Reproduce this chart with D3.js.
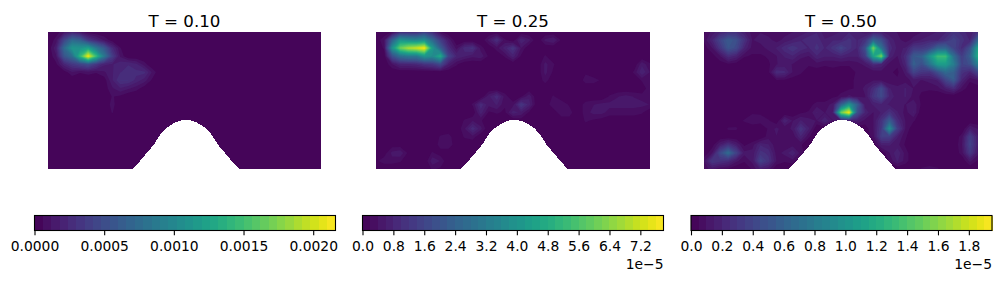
<!DOCTYPE html>
<html>
<head>
<meta charset="utf-8">
<script src="https://cdn.jsdelivr.net/npm/d3@7"></script>
<style>
    html, body { margin: 0; padding: 0; background: #fff; }
    svg { display: block; }
    text { font-family: "DejaVu Sans", sans-serif; fill: #000; }
</style>
</head>
<body>
<svg width="1001" height="282"></svg>
<script>
// panel titles
var titles = ["T = 0.10", "T = 0.25", "T = 0.50"];

// contour levels: size of one step and number of steps on each colorbar
var levelSteps = [6e-5, 2e-6, 5e-7];
var levelCounts = [36, 39, 39];

// colorbar ticks
var ticksA = [0, 0.0005, 0.001, 0.0015, 0.002];
var ticksB = [0, 0.8e-5, 1.6e-5, 2.4e-5, 3.2e-5, 4e-5, 4.8e-5, 5.6e-5, 6.4e-5, 7.2e-5];
var ticksC = [0, 0.2e-5, 0.4e-5, 0.6e-5, 0.8e-5, 1e-5, 1.2e-5, 1.4e-5, 1.6e-5, 1.8e-5];
var tickLabelsA = ["0.0000", "0.0005", "0.0010", "0.0015", "0.0020"];
var tickLabelsB = ["0.0", "0.8", "1.6", "2.4", "3.2", "4.0", "4.8", "5.6", "6.4", "7.2"];
var tickLabelsC = ["0.0", "0.2", "0.4", "0.6", "0.8", "1.0", "1.2", "1.4", "1.6", "1.8"];
var offsetLabels = ["", "1e\u22125", "1e\u22125"];

// outline of the bump, half of it, in plot units (x 0-2, y 0-1)
var bumpCenter = 1.01;
var bumpOffsets = [0, 0.037, 0.073, 0.11, 0.147, 0.183, 0.234, 0.293, 0.352, 0.39];
var bumpHeights = [0.358, 0.354, 0.343, 0.321, 0.296, 0.259, 0.179, 0.109, 0.04, 0];

// fields, in percent of the colorbar top
// one row per 1/17 of the height from the top, trailing zeros left out
var fieldA = [
    [0,1,5,9,5,1],
    [0,4,20,34,30,16,10,5,1],
    [0,8,34,52,52,58,40,28,12,3],
    [0,5,26,36,66,99,68,40,18,5],
    [0,2,10,16,20,24,16,9,8,10,11,9,4],
    [0,0,1,5,3,4,3,5,8,11,12,12,12,5],
    [0,0,0,0,0,0,0,1,8,14,14,10,7,2],
    [0,0,0,0,0,0,0,1,5,8,6,4,1],
    [0,0,0,0,0,0,0,0,3,2],
    [0,0,0,0,0,0,0,0,4],
    [0,0,0,0,0,0,0,0,3]
];
var fieldB = [
    [0,0,3,12,12,12,18,12,3],
    [0,5,30,52,48,46,50,34,18,7,0,0,0,0,6,13,3,0,10,6,0,6,8,2],
    [0,3,50,78,88,92,99,55,30,12,4,12,14,4,0,4,9,15,5],
    [0,0,24,36,40,40,52,48,62,20,10,8,6,7,2,0,3,9,2,0,0,3],
    [0,0,5,10,10,11,14,16,22,8,3,0,0,0,0,0,0,0,0,0,0,6,3,0,1,0,0,0,0,0,0,0,0,7,3],
    [0,0,0,0,0,0,0,0,0,0,0,0,0,0,0,0,0,0,0,0,0,6,2,0,0,0,2,0,0,0,0,0,3,10,5],
    [0,0,0,0,0,0,0,0,0,0,0,0,0,0,0,0,0,0,0,0,0,4,0,0,0,0,4,4,2,0,0,0,0,3,4],
    [0,0,0,0,0,0,0,0,0,0,0,0,0,0,0,0,0,0,0,0,0,0,0,0,2,2,0,0,0,0,0,0,0,0,5],
    [0,0,0,0,0,0,0,0,0,0,0,0,0,0,7,12,4,0,2,7,0,0,3,0,0,0,0,0,0,3,5,6,5,4,5],
    [0,0,0,0,0,0,0,0,0,0,0,0,3,12,6,8,3,4,16,9,0,0,5,5,2,0,4,5,6,6,6,6,6,6,5],
    [0,0,0,0,0,0,0,0,0,0,0,0,0,9,2,3,2,9,7,2,0,0,0,5,4,0,4,6,6,4,4,4,4,3],
    [0,0,0,0,0,0,0,0,0,0,0,3,5,3,0,0,0,0,1,0,0,0,0,0,1,0,3,2,1],
    [0,0,0,0,0,0,0,0,0,0,0,5,12,6,0,0,0,0,0,0,0,0,0,0,0,0,1],
    [0,0,0,0,0,0,0,0,3,4,0,3,4],
    [0,0,1,1,0,0,0,0,4,5],
    [0,1,6,7,2,0,0,3,1],
    [2,4,4,3,0,0,0,7,5],
    [1,0,0,0,0,0,0,3,2]
];
var fieldC = [
    [2,6,10,13,13,8,4,5,4,3,4,5,6,8,10,6,6,8,10,8,6,8,8,6,5,4,4,5,6,8,10,14,12,8,14],
    [3,10,20,28,24,14,5,6,6,4,6,8,10,12,12,8,10,10,14,10,14,32,24,10,6,4,6,8,10,10,14,20,14,10,32],
    [1,5,15,26,22,10,4,4,6,8,12,15,12,10,14,10,14,20,14,10,24,80,38,12,7,8,16,16,20,32,32,20,12,24,58],
    [0,1,5,12,9,3,2,2,3,5,8,10,6,5,10,8,8,10,8,8,18,58,80,10,5,12,28,30,50,68,68,36,18,30,62],
    [0,0,1,2,1,0,0,1,2,5,6,5,3,3,4,3,3,3,3,4,6,12,10,4,3,10,30,24,38,55,55,42,20,24,44],
    [0,0,0,0,0,0,0,0,2,12,11,5,3,1,1,1,2,1,1,3,3,3,4,3,2,6,20,15,14,24,34,30,14,10,20],
    [0,0,1,2,1,0,0,0,1,2,2,1,1,1,1,1,1,2,2,3,4,5,5,3,3,4,6,5,6,8,20,28,10,3,5],
    [0,0,0,1,0,0,0,0,0,0,0,0,0,1,1,1,1,2,2,3,6,12,22,8,6,8,5,3,3,4,8,12,4,1,1],
    [0,0,0,0,0,0,0,0,0,0,0,0,0,0,0,0,2,3,6,4,5,15,22,10,6,8,4,2,1],
    [0,0,0,0,0,0,0,0,0,0,0,0,0,1,4,4,6,30,52,30,6,8,10,7,6,5,7,2],
    [0,0,0,0,0,0,2,2,0,0,0,0,2,3,8,5,8,78,99,25,10,5,8,14,8,4,8],
    [0,0,0,0,1,3,5,4,3,0,10,5,8,6,5,10,5,6,8,8,4,5,14,30,12,5,3],
    [0,0,0,3,3,0,0,0,3,6,3,6,15,8,0,0,0,0,0,0,1,5,16,50,18,5,0,0,0,0,0,0,0,8,5],
    [0,0,0,0,0,0,0,0,4,5,3,3,10,3,0,0,0,0,0,0,0,4,18,18,8,3,0,0,0,0,0,0,4,18,8],
    [0,1,8,14,8,2,4,10,8,3,3,4,3,0,0,0,0,0,0,0,0,0,8,8,6,2,0,0,0,0,0,0,5,20,8],
    [0,5,22,35,20,6,6,14,12,4,6,10,4,0,0,0,0,0,0,0,0,0,0,5,10,4,0,0,0,0,0,0,4,16,6],
    [5,16,14,12,6,3,6,20,14,5,3,4,0,0,0,0,0,0,0,0,0,0,0,3,8,4,0,0,0,0,0,0,0,6,2],
    [4,6,3,2,0,0,3,8,6,0,0,0,0,0,0,0,0,0,0,0,0,0,0,0,0,0,0,3,4,3]
];

var fields = [fieldA, fieldB, fieldC];
var ticks = [ticksA, ticksB, ticksC];
var tickLabels = [tickLabelsA, tickLabelsB, tickLabelsC];

var gridCols = 35,
    gridRows = 18;

var svg = d3.select("svg");

// pixel boxes of the panels and of their colorbars
var panelLefts = [48, 376, 704],
    panelRights = [321, 650, 978],
    barLefts = [34.5, 362.5, 691],
    panelTop = 32,
    panelBottom = 169,
    barWidth = 301,
    barTop = 215.5,
    barBottom = 230.5;

titles.forEach(function(title, i) {
    var left = panelLefts[i],
        right = panelRights[i];
    var top_ = levelSteps[i] * levelCounts[i];

    // plot scales
    var x = d3.scaleLinear().domain([0, 2]).range([left, right]),
        y = d3.scaleLinear().domain([0, 1]).range([panelBottom, panelTop]);

    // grid scales, d3.contours puts node n at n + 0.5
    var gridX = d3.scaleLinear().domain([0.5, gridCols - 0.5]).range([left, right]),
        gridY = d3.scaleLinear().domain([0.5, gridRows - 0.5]).range([panelTop, panelBottom]);

    var color = function(k) {
        return d3.interpolateViridis((k + 0.5) / levelCounts[i]);
    };

    var values = [];
    d3.range(gridRows).forEach(function(r) {
        var row = fields[i][r] || [];
        d3.range(gridCols).forEach(function(c) {
            values.push((row[c] || 0) / 100 * top_);
        });
    });

    var levels = d3.range(levelCounts[i]).map(function(k) {
        return k * levelSteps[i];
    });

    var contours = d3.contours()
        .size([gridCols, gridRows])
        .thresholds(levels)(values);

    var path = d3.geoPath(d3.geoTransform({
        point: function(px, py) {
            this.stream.point(gridX(px), gridY(py));
        }
    }));

    svg.append("clipPath")
        .attr("id", "clip" + i)
        .append("rect")
        .attr("x", left)
        .attr("y", panelTop)
        .attr("width", right - left)
        .attr("height", panelBottom - panelTop);

    var g = svg.append("g").attr("clip-path", "url(#clip" + i + ")");

    g.selectAll("path")
        .data(contours)
        .enter().append("path")
        .attr("d", path)
        .attr("fill", function(d, k) { return color(k); });

    // the bump is not part of the domain
    var bumpPoints = bumpOffsets.map(function(o, k) {
        return [bumpCenter - o, bumpHeights[k]];
    }).reverse().concat(bumpOffsets.slice(1).map(function(o, k) {
        return [bumpCenter + o, bumpHeights[k + 1]];
    }));

    var bumpLine = d3.line()
        .x(function(d) { return x(d[0]); })
        .y(function(d) { return y(d[1]); });

    g.append("path")
        .attr("d", bumpLine(bumpPoints) + "Z")
        .attr("fill", "#fff")
        .attr("shape-rendering", "crispEdges");

    svg.append("text")
        .attr("x", x(1))
        .attr("y", 27)
        .attr("text-anchor", "middle")
        .style("font-size", "16.67px")
        .text(title);

    // colorbar
    var barScale = d3.scaleLinear()
        .domain([0, top_])
        .range([barLefts[i], barLefts[i] + barWidth]);

    svg.append("g").selectAll("rect")
        .data(levels)
        .enter().append("rect")
        .attr("x", function(d) { return barScale(d); })
        .attr("y", barTop)
        .attr("width", barWidth / levelCounts[i] + 0.6)
        .attr("height", barBottom - barTop)
        .attr("shape-rendering", "crispEdges")
        .attr("fill", function(d, k) { return color(k); });

    svg.append("rect")
        .attr("x", barLefts[i])
        .attr("y", barTop)
        .attr("width", barWidth)
        .attr("height", barBottom - barTop)
        .attr("fill", "none")
        .attr("stroke", "#000")
        .attr("stroke-width", 1.1);

    var axis = d3.axisBottom(barScale)
        .tickValues(ticks[i])
        .tickFormat(function(d, k) { return tickLabels[i][k]; })
        .tickSize(4.86)
        .tickPadding(6);

    var axisG = svg.append("g")
        .attr("transform", "translate(0," + barBottom + ")")
        .call(axis);

    axisG.select(".domain").remove();
    axisG.selectAll("line").attr("stroke", "#000").attr("stroke-width", 1.1);
    axisG.selectAll("text")
        .attr("fill", "#000")
        .style("font-family", '"DejaVu Sans", sans-serif')
        .style("font-size", "13.89px");

    if (offsetLabels[i]) {
        svg.append("text")
            .attr("x", barLefts[i] + barWidth)
            .attr("y", 269)
            .attr("text-anchor", "end")
            .style("font-size", "13.89px")
            .text(offsetLabels[i]);
    }
});
</script>
</body>
</html>
